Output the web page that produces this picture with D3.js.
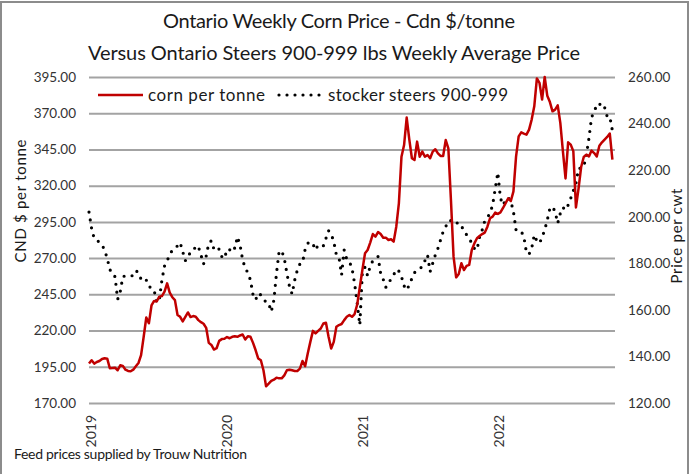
<!DOCTYPE html>
<html>
<head>
<meta charset="utf-8">
<script src="https://cdn.jsdelivr.net/npm/d3@7"></script>
<style>
  html, body { margin: 0; padding: 0; background: #fff; }
  svg { display: block; font-family: Lato, "Open Sans", sans-serif; }
</style>
</head>
<body>
<svg id="chart" width="694" height="474"></svg>
<script>
// ---- DATA (weekly, starting first week of 2019) ----
const startDate = new Date(2019, 0, 1);
const corn = [
  197.2, 199.5, 197.2, 198.3, 199.0, 200.4, 200.9, 200.6, 194.0, 194.2,
  194.4, 192.6, 196.0, 195.6, 193.0, 192.1, 191.9, 193.0, 195.3, 197.6,
  203.0, 215.7, 229.0, 225.0, 237.3, 240.4, 240.1, 243.4, 243.8, 246.8,
  252.6, 246.2, 243.0, 241.0, 230.7, 229.5, 226.3, 229.5, 232.5, 229.3,
  230.0, 229.5, 227.2, 225.8, 224.7, 221.9, 211.5, 210.1, 206.9, 207.8,
  212.9, 214.1, 214.3, 215.5, 214.7, 215.7, 216.0, 215.7, 216.6, 217.3,
  213.8, 216.1, 215.7, 211.5, 206.4, 200.7, 199.5, 192.6, 181.5, 183.3,
  185.2, 186.1, 187.5, 187.0, 187.0, 189.1, 192.6, 193.0, 192.6, 192.1,
  192.1, 193.7, 199.0, 195.4, 204.1, 212.2, 219.8, 218.0, 219.8, 221.4,
  224.9, 225.4, 215.7, 207.6, 212.2, 222.6, 223.8, 224.5, 227.2, 229.5,
  230.7, 229.5, 231.4, 238.0, 250.0, 262.0, 273.3, 275.6, 280.7, 286.6,
  284.8, 288.0, 286.6, 284.1, 284.1, 282.5, 283.0, 281.4, 291.7, 307.8,
  340.0, 348.0, 367.0, 352.0, 338.9, 337.7, 350.4, 340.0, 343.5, 340.0,
  341.2, 338.9, 343.5, 345.1, 342.3, 340.5, 340.5, 351.5, 345.8, 310.0,
  271.0, 256.7, 259.0, 266.4, 261.8, 264.6, 265.3, 275.6, 280.2, 283.7,
  285.3, 286.6, 287.6, 291.7, 297.5, 298.6, 301.4, 300.5, 301.6, 304.6,
  308.0, 311.3, 309.4, 316.1, 340.0, 354.0, 356.8, 355.9, 355.2, 358.7,
  365.6, 374.8, 394.0, 391.0, 379.4, 395.0, 382.0, 377.7, 371.3, 372.5,
  375.4, 363.3, 343.7, 325.0, 349.9, 348.3, 343.7, 305.0, 318.0, 332.9,
  339.8, 341.4, 340.2, 344.2, 342.5, 340.2, 347.6, 349.9, 351.8, 353.6,
  356.0, 338.0
];
const steers = [
  202.0, 195.0, 190.6, 189.7, 189.2, 187.9, 185.7, 182.1, 177.4, 175.0,
  174.3, 164.5, 167.8, 174.3, 174.6, 174.6, 174.6, 174.7, 176.8, 176.0,
  173.1, 173.8, 172.8, 170.0, 169.5, 168.5, 163.1, 164.3, 172.8, 178.8,
  181.1, 183.6, 185.7, 186.9, 187.4, 188.9, 185.0, 181.1, 183.6, 184.3,
  185.0, 187.5, 187.2, 183.6, 179.7, 183.1, 188.6, 189.7, 186.0, 186.9,
  186.0, 182.9, 182.0, 186.0, 185.7, 187.5, 186.4, 191.4, 187.9, 181.5,
  177.9, 176.0, 172.8, 166.4, 164.3, 167.1, 166.4, 165.0, 163.1, 162.8,
  159.2, 164.2, 175.7, 185.0, 185.4, 182.1, 175.7, 170.0, 166.8, 172.8,
  177.1, 179.7, 180.3, 186.0, 188.6, 189.3, 188.3, 185.7, 187.9, 187.9,
  187.5, 190.7, 194.0, 192.6, 189.3, 183.6, 182.6, 175.0, 185.7, 181.7,
  180.7, 177.9, 171.4, 162.8, 153.5, 176.7, 178.3, 174.6, 178.8, 181.1,
  182.1, 182.9, 175.7, 173.1, 169.7, 171.1, 173.5, 175.0, 177.4, 176.6,
  174.3, 170.3, 168.5, 170.7, 173.5, 176.0, 176.6, 177.7, 178.6, 181.1,
  183.6, 176.4, 180.0, 183.6, 186.4, 190.0, 193.6, 195.7, 198.3, 198.3,
  198.3, 198.3, 195.7, 195.7, 194.6, 192.2, 190.7, 188.6, 186.4, 185.7,
  191.4, 194.3, 198.3, 199.7, 201.5, 205.0, 212.0, 219.0, 208.0, 205.0,
  207.2, 208.2, 206.6, 202.2, 194.3, 193.7, 193.7, 191.4, 184.6, 183.9,
  186.4, 192.2, 189.6, 188.6, 191.2, 194.3, 198.6, 203.6, 204.3, 202.2,
  197.2, 201.5, 204.0, 202.9, 205.0, 207.9, 211.2, 214.3, 220.8, 220.8,
  221.5, 226.5, 233.7, 242.7, 245.1, 248.0, 248.7, 246.5, 247.0, 243.0,
  243.0, 237.0
];
const leftTicks = [170, 195, 220, 245, 270, 295, 320, 345, 370, 395];
const rightTicks = [120, 140, 160, 180, 200, 220, 240, 260];
const yearTicks = [2019, 2020, 2021, 2022];
const titleLines = ["Ontario Weekly Corn Price - Cdn $/tonne",
                    "Versus Ontario Steers 900-999 lbs Weekly Average Price"];
const seriesNames = ["corn per tonne", "stocker steers 900-999"];
const leftTitle = "CND $ per tonne";
const rightTitle = "Price per cwt";
const footnote = "Feed prices supplied by Trouw Nutrition";

// ---- LAYOUT ----
const svg = d3.select("#chart");
const L = 89, R = 615, T = 77, B = 403;
const dates = corn.map((_, i) => d3.timeDay.offset(startDate, 7 * i));

const x = d3.scaleTime().domain([startDate, new Date(2022, 10, 15)]).range([L, R]);
const yL = d3.scaleLinear().domain([170, 395]).range([B, T]);
const yR = d3.scaleLinear().domain([120, 260]).range([B, T]);

// frame
svg.append("rect").attr("x", 1).attr("y", 2).attr("width", 687).attr("height", 480)
  .attr("fill", "#fff").attr("stroke", "#8c8c8c").attr("stroke-width", 2);

// gridlines + left axis
const gL = svg.append("g").attr("transform", `translate(${L},0)`)
  .call(d3.axisLeft(yL).tickValues(leftTicks).tickSize(-(R - L)).tickPadding(13)
        .tickFormat(d3.format(".2f")));
gL.select(".domain").remove();
gL.selectAll(".tick line").attr("stroke", "#a3a3a3").attr("stroke-width", 2);
gL.selectAll(".tick text").attr("fill", "#333").style("font-size", "13.5px")
  .style("font-family", "Lato, sans-serif");

// right axis
const gR = svg.append("g").attr("transform", `translate(${R},0)`)
  .call(d3.axisRight(yR).tickValues(rightTicks).tickSize(0).tickPadding(13)
        .tickFormat(d3.format(".2f")));
gR.select(".domain").remove();
gR.selectAll(".tick text").attr("fill", "#333").style("font-size", "13.5px")
  .style("font-family", "Lato, sans-serif");

// x axis (year labels, rotated)
const gX = svg.append("g").attr("transform", `translate(0,${B})`)
  .call(d3.axisBottom(x).tickValues(yearTicks.map(y => new Date(y, 0, 1)))
        .tickSize(0).tickFormat(d3.timeFormat("%Y")));
gX.select(".domain").remove();
gX.selectAll(".tick text")
  .attr("transform", "rotate(-90)")
  .attr("x", -12).attr("y", 0).attr("dy", "0.45em")
  .attr("text-anchor", "end")
  .attr("fill", "#333").style("font-size", "14px").style("font-family", "Lato, sans-serif");

// lines
const cornLine = d3.line().x((d, i) => x(dates[i])).y(d => yL(d));
const steerLine = d3.line().x((d, i) => x(dates[i])).y(d => yR(d));

svg.append("path").datum(steers).attr("d", steerLine)
  .attr("fill", "none").attr("stroke", "#000").attr("stroke-width", 3.2)
  .attr("stroke-linecap", "round").attr("stroke-dasharray", "0 8");

svg.append("path").datum(corn).attr("d", cornLine)
  .attr("fill", "none").attr("stroke", "#c00000").attr("stroke-width", 2.5)
  .attr("stroke-linejoin", "round");

// titles
const title = svg.append("g").attr("fill", "#1a1a1a").style("font-size", "20px");
title.append("text").attr("x", 339).attr("y", 28).attr("text-anchor", "middle")
  .attr("textLength", 352).text(titleLines[0]);
title.append("text").attr("x", 334).attr("y", 60).attr("text-anchor", "middle")
  .attr("textLength", 492).text(titleLines[1]);

// legend
const lg = svg.append("g").style("font-size", "17px").attr("fill", "#1a1a1a");
lg.append("line").attr("x1", 98).attr("x2", 143).attr("y1", 95).attr("y2", 95)
  .attr("stroke", "#c00000").attr("stroke-width", 2.5);
lg.append("text").attr("x", 148).attr("y", 100.5).attr("textLength", 117).text(seriesNames[0]);
lg.append("line").attr("x1", 279).attr("x2", 320).attr("y1", 95).attr("y2", 95)
  .attr("stroke", "#000").attr("stroke-width", 3.2).attr("stroke-linecap", "round")
  .attr("stroke-dasharray", "0 8");
lg.append("text").attr("x", 328).attr("y", 100.5).attr("textLength", 180).text(seriesNames[1]);

// axis titles
svg.append("text").attr("transform", "translate(26,201) rotate(-90)")
  .attr("text-anchor", "middle").attr("textLength", 123)
  .style("font-size", "15px").attr("fill", "#1a1a1a").text(leftTitle);
svg.append("text").attr("transform", "translate(682,236) rotate(-90)")
  .attr("text-anchor", "middle").attr("textLength", 95)
  .style("font-size", "15px").attr("fill", "#1a1a1a").text(rightTitle);

// footnote
svg.append("text").attr("x", 14).attr("y", 459).attr("textLength", 233)
  .style("font-size", "14px").attr("fill", "#1a1a1a").text(footnote);
</script>
</body>
</html>
